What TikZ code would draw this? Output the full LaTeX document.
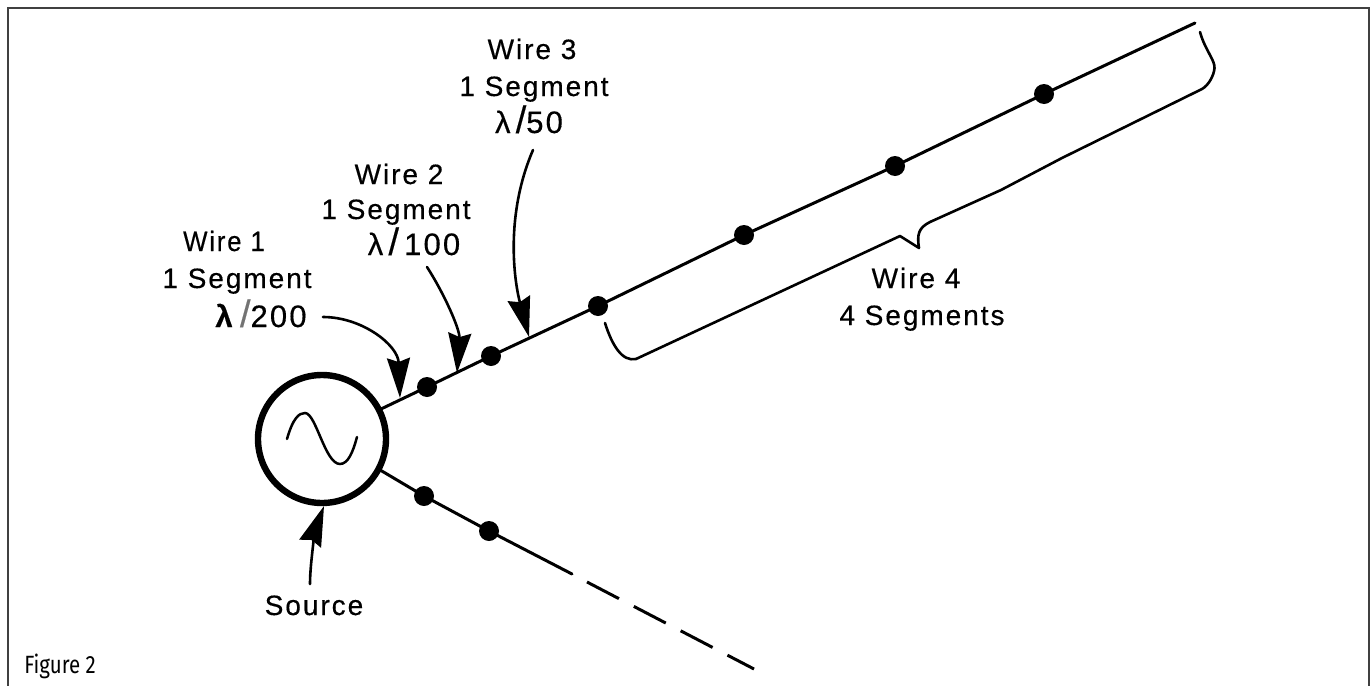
\documentclass[tikz,border=0pt]{standalone}
\usepackage{fontspec}
\usetikzlibrary{arrows.meta}
\setmainfont{Liberation Sans}[LetterSpace=7,FakeBold=0.4]
\newfontfamily\capfont{Fira Sans}
\newcommand{\bigslash}{{\fontsize{19}{19}\selectfont/}}
\tikzset{
  lbl/.style={anchor=base,inner sep=0pt,font=\fontsize{14}{14}\selectfont},
  lamlbl/.style={anchor=base,inner sep=0pt,font=\fontsize{15.5}{15.5}\selectfont},
  wire/.style={line width=1.5pt,line cap=round},
  dotnode/.style={circle,fill=black,inner sep=0pt,outer sep=0pt,minimum size=10pt},
  pointer/.style={line width=1.3pt,line cap=round,-{Stealth[length=20pt,width=11.5pt,inset=2pt]}},
  brace/.style={line width=1.3pt,line cap=round,line join=round},
  frame/.style={line width=1pt,draw=black!75}
}
\begin{document}
\begin{tikzpicture}[x=0.5pt,y=-0.5pt]
\useasboundingbox (0,0) rectangle (1372,686);
\fill[white] (0,0) rectangle (1372,686);
\draw[frame] (7.5,686) -- (7.5,7.5) -- (1369,7.5) -- (1369,686);

% source
\node[circle,draw,line width=3.2pt,inner sep=0pt,outer sep=0pt,minimum size=64pt] (src) at (322,439) {};
\draw[line width=1.25pt,line cap=round] (287,439) .. controls (293,418) and (299,413) .. (305,413)
  .. controls (316,413) and (325,464) .. (340,464) .. controls (348,464) and (353,452) .. (357,437);

% upper wire
\node[dotnode] (u1) at (427,387) {};
\node[dotnode] (u2) at (491,356) {};
\node[dotnode] (u3) at (598,306) {};
\node[dotnode] (u4) at (744,235) {};
\node[dotnode] (u5) at (895,166) {};
\node[dotnode] (u6) at (1044,94) {};
\coordinate (uend) at (1195,23);
\draw[wire] (src.27) -- (u1.center) -- (u2.center) -- (u3.center) -- (u4.center) -- (u5.center) -- (u6.center) -- (uend);

% lower wire
\node[dotnode] (l1) at (424,496) {};
\node[dotnode] (l2) at (489,531) {};
\coordinate (lsolid) at (572,574);
\coordinate (ldash) at (587,582);
\coordinate (lend) at (754,669);
\draw[wire] (src.-28) -- (l1.center) -- (l2.center) -- (lsolid);
\draw[wire,line cap=butt,dash pattern=on 18pt off 8.4pt] (ldash) -- (lend);

% labels
\node[lbl,xscale=.92] (w1a) at (224,251) {Wire 1};
\node[lbl] (w1b) at (237,288) {1 Segment};
\node[lamlbl] (w1c) at (261,327) {\textbf{λ}\,{\color{black!55}\bigslash}200};
\node[lbl] (w2a) at (399,184) {Wire 2};
\node[lbl] (w2b) at (396,219) {1 Segment};
\node[lamlbl] (w2c) at (414,255) {λ\,\bigslash\,100};
\node[lbl] (w3a) at (532,59) {Wire 3};
\node[lbl] (w3b) at (534,96) {1 Segment};
\node[lamlbl] (w3c) at (529,133) {λ\,\bigslash{}50};
\node[lbl] (w4a) at (916,288) {Wire 4};
\node[lbl] (w4b) at (922,325) {4 Segments};
\node[lbl] (srcl) at (314,615) {Source};
\node[anchor=base west,inner sep=0pt,xscale=.82,font=\capfont\fontsize{12.5}{12.5}\selectfont] (fig) at (24,673) {Figure 2};

% pointers
\coordinate (p1s) at (323,317);
\coordinate (p1e) at (400,398);
\draw[pointer] (p1s) .. controls (362,317) and (398,345) .. (p1e);
\coordinate (p2s) at (427,267);
\coordinate (p2e) at (457,373);
\draw[pointer] (p2s) .. controls (445,295) and (460,330) .. (p2e);
\coordinate (p3s) at (533,150);
\coordinate (p3e) at (529,337);
\draw[pointer] (p3s) .. controls (505,215) and (514,280) .. (p3e);
\coordinate (p4s) at (310,584);
\coordinate (p4e) at (324,506);
\draw[pointer] (p4s) .. controls (310,560) and (317,525) .. (p4e);

% brace
\coordinate (b0) at (605,323);
\coordinate (b1) at (636,359);
\coordinate (b2) at (900,236);
\coordinate (b3) at (919,248);
\coordinate (b4) at (930,222);
\coordinate (b5) at (1202,89);
\coordinate (b6) at (1214.5,68);
\coordinate (b7) at (1200,32);
\draw[brace] (b0) .. controls (612,345) and (622,362) .. (b1) -- (b2) -- (b3)
  .. controls (917,235) and (918,228) .. (b4) -- (1001,190) -- (1062,158) -- (b5)
  .. controls (1209,85) and (1214,75) .. (b6) .. controls (1215,60) and (1205,50) .. (b7);
\end{tikzpicture}
\end{document}
